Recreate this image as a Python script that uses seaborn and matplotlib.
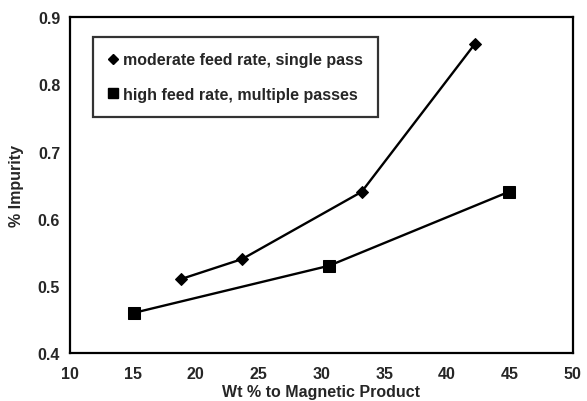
import matplotlib
matplotlib.use("Agg")
import matplotlib.pyplot as plt
from matplotlib.lines import Line2D
import seaborn as sns
import pandas as pd

# Moderate feed rate, single pass
single_x = [18.8, 23.7, 33.2, 42.2]
single_y = [0.51, 0.54, 0.64, 0.86]

# High feed rate, multiple passes
multi_x = [15.1, 30.6, 44.9]
multi_y = [0.46, 0.53, 0.64]

label_single = "moderate feed rate, single pass"
label_multi = "high feed rate, multiple passes"

x_ticks = [10, 15, 20, 25, 30, 35, 40, 45, 50]
y_ticks = [0.4, 0.5, 0.6, 0.7, 0.8, 0.9]

df = pd.concat([
    pd.DataFrame({"wt": single_x, "imp": single_y, "series": label_single}),
    pd.DataFrame({"wt": multi_x, "imp": multi_y, "series": label_multi}),
])

sns.set_style("white")
plt.rcParams["font.family"] = ["Liberation Sans", "DejaVu Sans"]
plt.rcParams["font.weight"] = "bold"

FS = 11.5

fig = plt.figure(figsize=(5.87, 4.02), dpi=100)
ax = fig.add_axes([0.119, 0.119, 0.857, 0.836])

sns.lineplot(
    data=df, x="wt", y="imp", hue="series", style="series",
    palette={label_single: "black", label_multi: "black"},
    markers={label_single: "D", label_multi: "s"},
    dashes=False, sort=False, linewidth=1.7,
    markeredgecolor="black", ax=ax, legend=False,
)
for line in ax.get_lines():
    if line.get_marker() == "s":
        line.set_markersize(9)
    else:
        line.set_markersize(6)

ax.set_xlim(10, 50)
ax.set_ylim(0.4, 0.9)
ax.set_xticks(x_ticks)
ax.set_yticks(y_ticks)
ax.set_xticklabels([str(t) for t in x_ticks], fontsize=FS, fontweight="bold")
ax.set_yticklabels([f"{t:.1f}" for t in y_ticks], fontsize=FS, fontweight="bold")
ax.tick_params(axis="y", direction="out", length=4, width=1.2, color="black", pad=3)
ax.tick_params(axis="x", length=0, pad=9)

for s in ax.spines.values():
    s.set_color("black")
    s.set_linewidth(1.6)

ax.set_xlabel("Wt % to Magnetic Product", fontsize=FS, fontweight="bold", labelpad=2.5)
ax.set_ylabel("% Impurity", fontsize=FS, fontweight="bold", labelpad=10)

handles = [
    Line2D([], [], color="black", marker="D", linestyle="none", markersize=5.5),
    Line2D([], [], color="black", marker="s", linestyle="none", markersize=7),
]
leg = ax.legend(
    handles, [label_single, label_multi],
    loc="upper left", bbox_to_anchor=(0.046, 0.94),
    frameon=True, fancybox=False, edgecolor="black",
    prop={"size": FS, "weight": "bold"},
    handlelength=0.6, handletextpad=0.35, borderpad=0.95, labelspacing=1.2,
    borderaxespad=0,
)
leg.get_frame().set_linewidth(1.6)

fig.savefig("out.png", dpi=100, facecolor="white")
